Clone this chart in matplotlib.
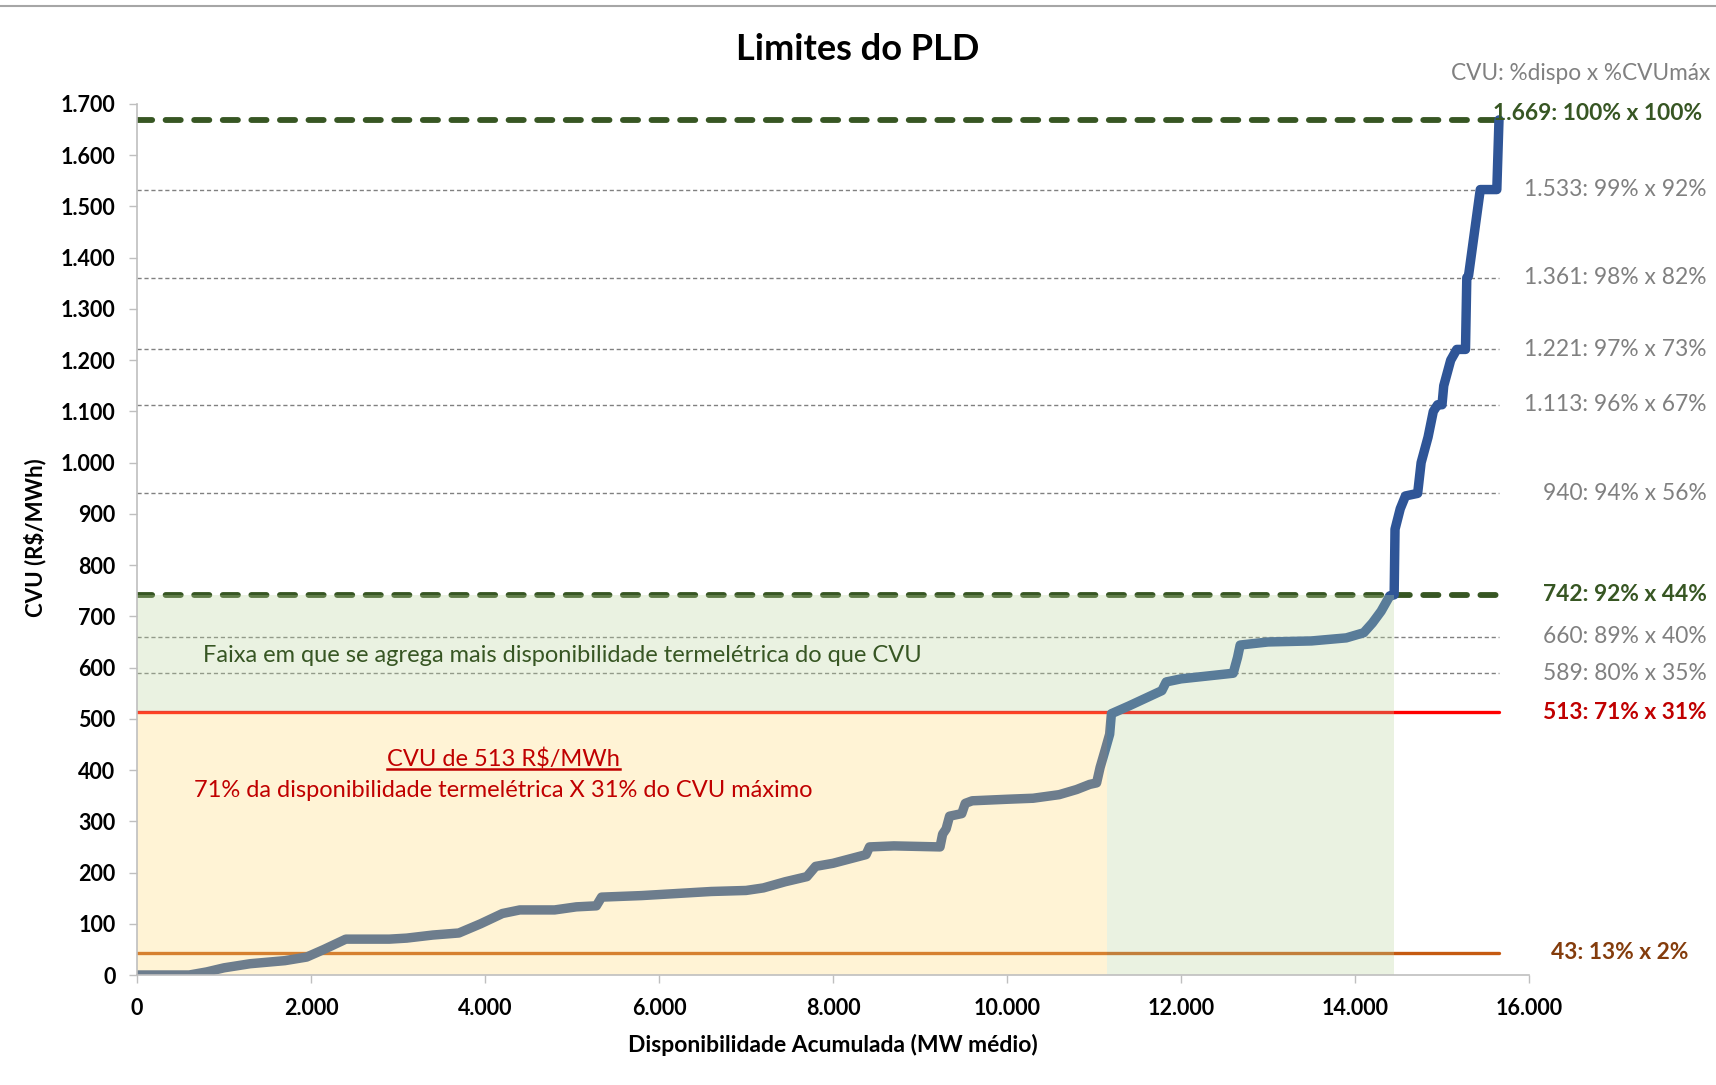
import matplotlib
matplotlib.use("Agg")
import matplotlib.pyplot as plt
from matplotlib.ticker import FuncFormatter, MultipleLocator
from matplotlib.transforms import blended_transform_factory
from matplotlib.lines import Line2D

plt.rcParams['font.family'] = ['Lato', 'DejaVu Sans']

# ---------------- data ----------------
disp = [0, 600, 800, 1000, 1300, 1700, 1950, 2150, 2400, 2900,
        3100, 3400, 3700, 3950, 4200, 4400, 4800, 5050, 5280, 5340,
        5800, 6300, 6600, 7000, 7200, 7450, 7700, 7800, 8000, 8380,
        8420, 8700, 9230, 9260, 9300, 9340, 9480, 9520, 9600, 10000,
        10300, 10600, 10800, 10950, 11030, 11070, 11130, 11180, 11200, 11400,
        11780, 11830, 12000, 12600, 12650, 12680, 13000, 13500, 13900, 14100,
        14200, 14300, 14400, 14450, 14460, 14520, 14580, 14720, 14740, 14760,
        14840, 14900, 14950, 15000, 15020, 15100, 15170, 15270, 15285, 15305,
        15440, 15630, 15655]
cvu = [0, 0, 6, 14, 22, 28, 35, 50, 70, 70,
       72, 78, 82, 100, 120, 127, 127, 133, 135, 152,
       155, 160, 163, 165, 170, 182, 192, 212, 218, 235,
       250, 252, 250, 275, 285, 310, 315, 335, 340, 343,
       345, 352, 362, 372, 375, 405, 440, 470, 510, 525,
       555, 572, 578, 589, 620, 644, 650, 652, 658, 668,
       687, 710, 740, 742, 870, 910, 935, 940, 970, 1000,
       1050, 1100, 1113, 1113, 1150, 1200, 1221, 1221, 1361, 1365,
       1533, 1533, 1669]

levels = [1669, 1533, 1361, 1221, 1113, 940, 742, 660, 589, 513, 43]
level_labels = ["1.669: 100% x 100%", "1.533: 99% x 92%", "1.361: 98% x 82%",
                "1.221: 97% x 73%", "1.113: 96% x 67%", "940: 94% x 56%",
                "742: 92% x 44%", "660: 89% x 40%", "589: 80% x 35%",
                "513: 71% x 31%", "43: 13% x 2%"]
level_kind = ["limit", "step", "step", "step", "step", "step",
              "limit", "step", "step", "red", "floor"]

x_513 = 11150      # availability where CVU reaches 513
x_742 = 14450      # availability where CVU reaches 742
x_end = 15660      # end of reference lines

title = "Limites do PLD"
xlabel = "Disponibilidade Acumulada (MW médio)"
ylabel = "CVU (R\\$/MWh)"
header = "CVU: %dispo x %CVUmáx"
band_text = "Faixa em que se agrega mais disponibilidade termelétrica do que CVU"
red_title = "CVU de 513 R\\$/MWh"
red_text = "71% da disponibilidade termelétrica X 31% do CVU máximo"

# ---------------- styles ----------------
W, H = 1716, 1085
fig = plt.figure(figsize=(W / 100, H / 100), dpi=100)
ax = fig.add_axes([137 / W, 1 - 975 / H, (1529 - 137) / W, (975 - 104) / H])

GREEN = "#375623"
GRAY = "#808080"
RED_LINE = "#ff0000"
RED_TXT = "#c00000"
ORANGE = "#c55a11"
BROWN = "#843c0c"
BLUE = "#2f5597"

line_style = {
    "limit": dict(color=GREEN, lw=4.2, linestyle=(0, (2.6, 2.3)), dash_capstyle="round", zorder=2),
    "step": dict(color=GRAY, lw=1.0, linestyle=(0, (3.0, 2.0)), zorder=2),
    "red": dict(color=RED_LINE, lw=2.4, linestyle="-", solid_capstyle="round", zorder=2),
    "floor": dict(color=ORANGE, lw=2.4, linestyle="-", solid_capstyle="round", zorder=2),
}
label_style = {
    "limit": dict(color=GREEN, weight="bold"),
    "step": dict(color=GRAY, weight="normal"),
    "red": dict(color=RED_TXT, weight="bold"),
    "floor": dict(color=BROWN, weight="bold"),
}

# reference lines
for lv, kind in zip(levels, level_kind):
    ax.plot([0, x_end], [lv, lv], **line_style[kind])

# curve
ax.plot(disp, cvu, color=BLUE, lw=6.8, solid_capstyle="round",
        solid_joinstyle="round", zorder=3)

# translucent bands drawn on top
ax.fill_between([0, x_513], 0, 513, color="#ffda76", alpha=0.3, lw=0, zorder=5)
ax.fill([0, x_513, x_513, x_742, x_742, 0], [513, 513, 0, 0, 742, 742],
        color="#bcd79e", alpha=0.3, lw=0, zorder=5)

# axes
ax.set_xlim(0, 16000)
ax.set_ylim(0, 1700)
ax.xaxis.set_major_locator(MultipleLocator(2000))
ax.yaxis.set_major_locator(MultipleLocator(100))
fmt = FuncFormatter(lambda v, p: f"{int(round(v)):,}".replace(",", "."))
ax.xaxis.set_major_formatter(fmt)
ax.yaxis.set_major_formatter(fmt)
for s in ["top", "right"]:
    ax.spines[s].set_visible(False)
for s in ["left", "bottom"]:
    ax.spines[s].set_color("#bfbfbf")
    ax.spines[s].set_linewidth(1.2)
    ax.spines[s].set_zorder(6)
ax.tick_params(axis="both", direction="out", length=5.5, color="#bfbfbf", width=1,
               labelsize=15.5)
ax.tick_params(axis="y", pad=10)
ax.tick_params(axis="x", pad=11)
for lab in ax.get_xticklabels() + ax.get_yticklabels():
    lab.set_fontweight("bold")
ax.set_facecolor("none")

# texts
fig.text(0.5, 1 - 49 / H, title, ha="center", va="center", fontsize=26, weight="bold")
fig.text(35 / W, 1 - 538 / H, ylabel, rotation=90, ha="center", va="center",
         fontsize=16, weight="bold")
fig.text(833 / W, 1 - 1045 / H, xlabel, ha="center", va="center", fontsize=16.5, weight="bold")

fig.text(1710 / W, 1 - 73 / H, header, ha="right", va="center", fontsize=16.3, color=GRAY)
tr = blended_transform_factory(fig.transFigure, ax.transData)
for lv, lab, kind in zip(levels, level_labels, level_kind):
    xr = 1707 / W
    if kind == "floor":
        xr = 1688 / W
    elif lv == 1669:
        xr = 1702 / W
    yy = lv + (12 if lv == 1669 else 0)
    ax.text(xr, yy, lab, transform=tr, ha="right", va="center", fontsize=16.4,
            clip_on=False, zorder=7, **label_style[kind])

ax.text(760, 624, band_text, ha="left", va="center", fontsize=17, color=GREEN, zorder=7)
t_red = ax.text(4214, 421, red_title, ha="center", va="center", fontsize=17,
                color=RED_TXT, zorder=7)
ax.text(4214, 361, red_text, ha="center", va="center", fontsize=17, color=RED_TXT, zorder=7)

# top border
fig.add_artist(Line2D([0, 1], [1 - 6 / H, 1 - 6 / H], transform=fig.transFigure,
                      color="#a6a6a6", lw=1.5))

# underline for red title
fig.canvas.draw()
bb = t_red.get_window_extent(renderer=fig.canvas.get_renderer())
inv = fig.transFigure.inverted()
(x0, y0), (x1, _) = inv.transform([(bb.x0, bb.y0 + 1), (bb.x1, bb.y0 + 1)])
fig.add_artist(Line2D([x0, x1], [y0, y0], transform=fig.transFigure,
                      color=RED_TXT, lw=1.8, zorder=8))

fig.savefig("out.png", dpi=100)
